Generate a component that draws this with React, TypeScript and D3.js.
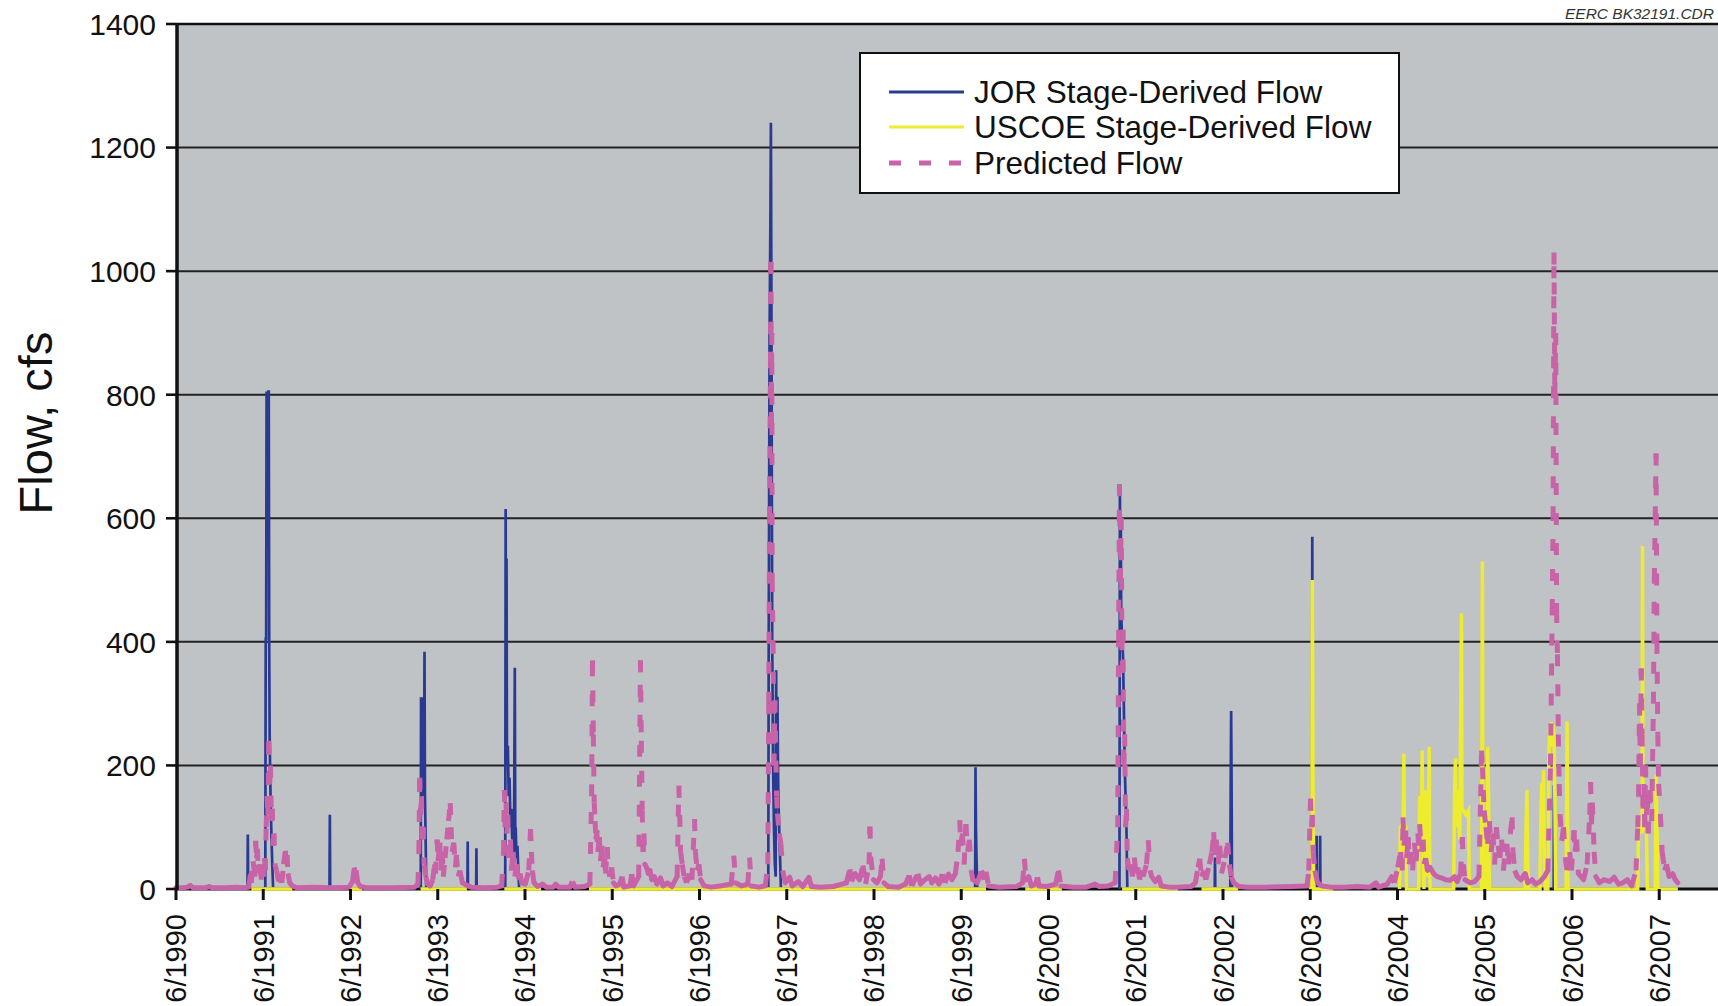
import React from 'react';
import * as d3 from 'd3';

const W = 1718;
const H = 1006;

const yTickValues = [0, 200, 400, 600, 800, 1000, 1200, 1400];
const xTickLabels = ['6/1990','6/1991','6/1992','6/1993','6/1994','6/1995','6/1996','6/1997','6/1998','6/1999','6/2000','6/2001','6/2002','6/2003','6/2004','6/2005','6/2006','6/2007'];
const seriesNames = ['JOR Stage-Derived Flow', 'USCOE Stage-Derived Flow', 'Predicted Flow'];
const seriesColors = ['#2A3A92', '#EEEC2E', '#C863A8'];
const yTitle = 'Flow, cfs';
const stamp = 'EERC BK32191.CDR';

type Pt = [number, number | null];

// time as decimal year, value in cfs (null = gap)
const jorFlow: Pt[] = [
  [1991.236,0],[1991.24,88],[1991.244,0],[1991.25,null],
  [1991.44,0],[1991.445,405],[1991.45,405],[1991.455,805],[1991.46,600],[1991.465,805],[1991.47,700],[1991.475,805],[1991.48,805],[1991.485,400],[1991.49,250],[1991.50,150],[1991.51,90],[1991.52,40],[1991.53,0],[1991.54,null],
  [1992.176,0],[1992.18,120],[1992.184,0],[1992.19,null],
  [1993.222,0],[1993.225,308],[1993.245,308],[1993.25,200],[1993.255,150],[1993.26,200],[1993.265,384],[1993.27,150],[1993.28,60],[1993.285,0],[1993.29,null],
  [1993.757,0],[1993.76,77],[1993.763,0],[1993.77,null],
  [1993.857,0],[1993.86,66],[1993.863,0],[1993.87,null],
  [1994.19,0],[1994.195,615],[1994.20,250],[1994.205,535],[1994.21,200],[1994.22,232],[1994.23,150],[1994.24,180],[1994.25,100],[1994.26,130],[1994.27,80],[1994.28,120],[1994.29,60],[1994.30,358],[1994.305,90],[1994.31,100],[1994.32,50],[1994.33,70],[1994.34,30],[1994.35,0],[1994.36,null],
  [1997.205,0],[1997.21,400],[1997.22,900],[1997.23,1100],[1997.235,1240],[1997.24,1000],[1997.245,700],[1997.25,400],[1997.26,200],[1997.27,100],[1997.28,40],[1997.29,20],[1997.295,354],[1997.30,200],[1997.31,311],[1997.315,224],[1997.32,150],[1997.33,100],[1997.34,50],[1997.35,0],[1997.36,null],
  [1999.576,0],[1999.58,197],[1999.585,100],[1999.59,60],[1999.60,0],[1999.61,null],
  [2001.23,0],[2001.235,655],[2001.24,500],[2001.245,600],[2001.25,450],[2001.26,400],[2001.27,380],[2001.28,300],[2001.29,200],[2001.30,150],[2001.31,100],[2001.315,50],[2001.32,0],[2001.33,null],
  [2002.322,0],[2002.325,51],[2002.328,0],[2002.33,null],
  [2002.50,0],[2002.505,165],[2002.51,288],[2002.515,170],[2002.52,0],[2002.53,null],
  [2003.436,0],[2003.44,570],[2003.444,0],[2003.45,null],
  [2003.487,0],[2003.49,86],[2003.493,0],[2003.50,null],
  [2003.527,0],[2003.53,86],[2003.533,0],[2003.54,null],
  [2006.207,0],[2006.21,168],[2006.213,0],
];

const uscoeFlow: Pt[] = [
  [1991.28,0],[1991.75,0],[1991.76,null],
  [1992.40,0],[1992.55,0],[1992.56,null],
  [1993.22,0],[1993.75,0],[1993.76,null],
  [1994.18,0],[1994.60,0],[1994.61,null],
  [1995.15,0],[1999.70,0],[1999.71,null],
  [2000.15,0],[2000.57,0],[2000.58,null],
  [2001.26,0],[2001.90,0],[2001.91,null],
  [2002.17,0],[2002.59,0],[2002.60,null],
  [2003.40,0],[2003.436,0],[2003.44,500],[2003.445,300],[2003.45,100],[2003.455,20],[2003.46,0],[2003.68,0],[2003.69,null],
  [2004.44,0],[2004.45,100],[2004.47,105],[2004.48,60],[2004.49,219],[2004.495,105],[2004.51,100],[2004.52,0],[2004.66,0],[2004.67,150],[2004.69,80],[2004.70,224],[2004.71,60],[2004.72,0],[2004.73,160],[2004.74,100],[2004.76,20],[2004.78,230],[2004.785,50],[2004.79,0],
  [2005.06,0],[2005.07,150],[2005.08,211],[2005.09,100],[2005.11,160],[2005.13,80],[2005.15,446],[2005.155,130],[2005.17,127],[2005.20,120],[2005.23,127],[2005.24,0],
  [2005.38,0],[2005.39,530],[2005.395,100],[2005.41,0],[2005.44,0],[2005.45,230],[2005.46,150],[2005.47,0],
  [2005.88,0],[2005.89,100],[2005.90,160],[2005.91,40],[2005.92,0],
  [2006.05,0],[2006.06,120],[2006.07,171],[2006.08,80],[2006.09,192],[2006.10,30],[2006.11,0],
  [2006.14,0],[2006.15,200],[2006.16,263],[2006.17,230],[2006.18,270],[2006.19,240],[2006.20,265],[2006.21,250],[2006.22,150],[2006.23,0],
  [2006.35,0],[2006.36,271],[2006.37,0],
  [2007.17,0],[2007.18,98],[2007.20,100],[2007.22,90],[2007.225,555],[2007.23,100],[2007.25,98],[2007.27,95],[2007.28,0],
  [2007.37,0],[2007.38,185],[2007.39,100],[2007.40,0],[2007.63,0],
];

const predictedFlow: [number, number][] = [
  [1990.417,2],[1990.50,2],[1990.55,3],[1990.58,6],[1990.61,2],[1990.75,2],[1990.80,4],[1990.83,2],[1991.00,2],[1991.10,3],[1991.20,2],
  [1991.25,3],[1991.27,25],[1991.28,10],[1991.30,45],[1991.32,20],[1991.33,78],[1991.34,50],[1991.35,65],[1991.36,25],[1991.38,40],[1991.39,15],[1991.41,35],[1991.42,20],[1991.43,50],[1991.44,30],[1991.45,100],[1991.46,150],[1991.47,120],[1991.48,240],[1991.49,170],[1991.50,200],[1991.51,110],[1991.52,130],[1991.53,70],[1991.54,90],[1991.55,40],[1991.57,30],[1991.59,15],[1991.61,20],[1991.63,10],[1991.65,40],[1991.67,62],[1991.68,45],[1991.69,55],[1991.70,25],[1991.72,10],[1991.75,5],[1991.80,2],
  [1992.00,3],[1992.20,2],[1992.40,3],[1992.44,12],[1992.46,35],[1992.47,22],[1992.48,30],[1992.50,10],[1992.53,4],[1992.60,2],
  [1992.90,2],[1993.15,3],[1993.19,8],[1993.20,60],[1993.21,180],[1993.22,120],[1993.23,150],[1993.24,80],[1993.25,100],[1993.26,40],[1993.28,20],[1993.30,8],[1993.33,5],[1993.36,15],[1993.38,40],[1993.39,25],[1993.41,80],[1993.42,45],[1993.44,75],[1993.45,30],[1993.47,60],[1993.48,20],[1993.50,50],[1993.52,80],[1993.54,110],[1993.56,139],[1993.57,100],[1993.58,60],[1993.60,75],[1993.62,35],[1993.63,55],[1993.65,20],[1993.67,30],[1993.70,10],[1993.75,6],[1993.80,3],[1993.95,2],
  [1994.10,3],[1994.15,5],[1994.17,60],[1994.18,160],[1994.19,100],[1994.20,140],[1994.21,90],[1994.22,120],[1994.23,50],[1994.25,80],[1994.26,30],[1994.28,60],[1994.30,20],[1994.32,40],[1994.34,15],[1994.36,25],[1994.38,10],[1994.42,8],[1994.46,30],[1994.48,97],[1994.49,60],[1994.50,30],[1994.52,10],[1994.56,4],[1994.62,8],[1994.66,3],[1994.74,3],[1994.77,8],[1994.80,3],[1994.93,3],[1994.96,12],[1994.99,3],
  [1995.10,4],[1995.16,8],[1995.18,150],[1995.19,370],[1995.20,250],[1995.21,140],[1995.22,110],[1995.23,80],[1995.24,95],[1995.25,60],[1995.27,84],[1995.28,45],[1995.30,70],[1995.31,35],[1995.33,50],[1995.34,25],[1995.36,68],[1995.37,30],[1995.39,20],[1995.41,35],[1995.43,10],[1995.46,5],[1995.50,8],[1995.53,20],[1995.55,3],[1995.62,5],[1995.64,24],[1995.66,5],[1995.72,20],[1995.74,370],[1995.75,240],[1995.76,127],[1995.77,60],[1995.78,90],[1995.79,40],[1995.81,35],[1995.83,25],[1995.85,30],[1995.87,15],[1995.90,20],[1995.93,8],[1995.97,18],
  [1996.00,5],[1996.05,10],[1996.10,4],[1996.16,20],[1996.18,167],[1996.19,120],[1996.20,60],[1996.22,40],[1996.24,20],[1996.27,10],[1996.30,25],[1996.33,15],[1996.36,113],[1996.37,60],[1996.39,30],[1996.41,40],[1996.43,15],[1996.47,5],[1996.55,3],[1996.65,5],[1996.78,8],[1996.81,54],[1996.83,10],[1996.90,5],[1996.97,8],[1996.99,51],[1997.01,5],[1997.10,3],
  [1997.17,5],[1997.20,40],[1997.21,300],[1997.22,600],[1997.23,850],[1997.235,1015],[1997.24,750],[1997.245,900],[1997.25,500],[1997.26,400],[1997.27,200],[1997.28,305],[1997.30,150],[1997.31,122],[1997.33,90],[1997.35,73],[1997.37,30],[1997.40,10],[1997.45,19],[1997.48,5],[1997.55,12],[1997.60,4],[1997.67,19],[1997.70,4],[1997.80,3],[1997.95,4],
  [1998.10,10],[1998.14,32],[1998.16,12],[1998.20,25],[1998.25,15],[1998.29,38],[1998.32,8],[1998.36,40],[1998.37,101],[1998.38,50],[1998.41,15],[1998.45,10],[1998.49,20],[1998.51,49],[1998.53,10],[1998.58,4],[1998.70,3],[1998.78,8],[1998.82,22],[1998.85,5],[1998.92,25],[1998.95,8],
  [1999.00,15],[1999.05,20],[1999.08,10],[1999.12,18],[1999.16,8],[1999.20,24],[1999.23,10],[1999.27,24],[1999.31,15],[1999.35,25],[1999.38,60],[1999.40,111],[1999.41,70],[1999.43,90],[1999.45,40],[1999.47,105],[1999.49,60],[1999.51,80],[1999.53,30],[1999.55,15],[1999.60,10],[1999.65,30],[1999.68,15],[1999.70,28],[1999.73,5],[1999.85,3],
  [2000.05,4],[2000.12,10],[2000.14,49],[2000.16,15],[2000.19,20],[2000.22,5],[2000.27,8],[2000.29,19],[2000.31,5],[2000.40,4],[2000.50,8],[2000.53,30],[2000.56,5],[2000.70,3],[2000.85,3],[2000.95,8],[2001.00,4],[2001.10,5],
  [2001.18,10],[2001.21,100],[2001.22,400],[2001.23,655],[2001.24,500],[2001.25,600],[2001.26,350],[2001.27,420],[2001.28,200],[2001.29,250],[2001.30,100],[2001.31,130],[2001.32,50],[2001.34,30],[2001.36,40],[2001.38,20],[2001.40,51],[2001.42,25],[2001.44,35],[2001.46,15],[2001.48,30],[2001.50,20],[2001.54,40],[2001.56,79],[2001.58,30],[2001.60,20],[2001.64,12],[2001.68,19],[2001.71,5],[2001.80,3],[2001.90,3],
  [2002.05,4],[2002.10,10],[2002.13,35],[2002.15,49],[2002.17,20],[2002.20,30],[2002.22,15],[2002.26,40],[2002.29,60],[2002.31,92],[2002.32,55],[2002.34,80],[2002.36,40],[2002.38,70],[2002.40,25],[2002.44,50],[2002.47,75],[2002.49,40],[2002.51,20],[2002.54,10],[2002.60,4],[2002.70,3],[2002.90,3],
  [2003.20,4],[2003.38,5],[2003.40,30],[2003.42,146],[2003.43,100],[2003.44,120],[2003.45,60],[2003.47,30],[2003.50,10],[2003.55,5],[2003.65,3],[2003.80,3],[2003.95,4],
  [2004.10,3],[2004.17,10],[2004.20,3],[2004.30,8],[2004.35,20],[2004.38,10],[2004.42,35],[2004.45,60],[2004.47,30],[2004.48,116],[2004.49,70],[2004.51,95],[2004.52,50],[2004.54,84],[2004.55,40],[2004.57,60],[2004.59,30],[2004.61,75],[2004.63,45],[2004.65,90],[2004.66,70],[2004.67,105],[2004.69,60],[2004.71,80],[2004.72,40],[2004.74,50],[2004.76,30],[2004.79,35],[2004.83,25],[2004.87,20],[2004.92,18],[2004.97,15],
  [2005.02,14],[2005.07,20],[2005.10,12],[2005.14,25],[2005.16,84],[2005.17,40],[2005.19,15],[2005.25,10],[2005.30,12],[2005.35,20],[2005.37,150],[2005.38,224],[2005.39,197],[2005.40,160],[2005.41,127],[2005.43,100],[2005.45,73],[2005.47,110],[2005.49,60],[2005.51,90],[2005.53,40],[2005.55,100],[2005.57,70],[2005.59,50],[2005.61,80],[2005.63,30],[2005.65,60],[2005.67,73],[2005.69,40],[2005.71,90],[2005.73,116],[2005.74,60],[2005.76,30],[2005.79,20],[2005.83,15],[2005.88,25],[2005.91,10],[2005.96,15],
  [2006.00,8],[2006.05,12],[2006.10,20],[2006.14,30],[2006.17,200],[2006.19,450],[2006.20,600],[2006.21,1030],[2006.22,800],[2006.23,900],[2006.24,450],[2006.25,380],[2006.26,250],[2006.27,170],[2006.28,120],[2006.30,78],[2006.32,100],[2006.34,50],[2006.36,30],[2006.39,60],[2006.41,30],[2006.44,95],[2006.45,60],[2006.47,80],[2006.49,25],[2006.52,20],[2006.55,15],[2006.59,40],[2006.62,120],[2006.63,173],[2006.64,105],[2006.65,140],[2006.67,60],[2006.69,20],[2006.73,10],[2006.78,15],[2006.85,12],[2006.90,19],[2006.95,8],
  [2007.00,10],[2007.05,15],[2007.10,5],[2007.15,30],[2007.17,100],[2007.18,150],[2007.19,300],[2007.20,200],[2007.21,357],[2007.22,250],[2007.23,130],[2007.24,170],[2007.25,100],[2007.26,200],[2007.27,120],[2007.28,150],[2007.29,90],[2007.31,160],[2007.33,110],[2007.35,300],[2007.36,500],[2007.37,600],[2007.38,705],[2007.39,400],[2007.40,250],[2007.41,170],[2007.43,120],[2007.45,60],[2007.48,30],[2007.50,40],[2007.53,20],[2007.57,25],[2007.60,15],[2007.63,10],
];

const FONT = "'Liberation Sans', Arial, Helvetica, sans-serif";

export default function App() {
  const left = 177, top = 24, bottom = 889, right = W;
  const x = d3.scaleLinear().domain([1990.4167, 2008.09]).range([176, 1718]);
  const y = d3.scaleLinear().domain([0, 1400]).range([bottom, top]);
  const xTickValues = xTickLabels.map(l => +l.split('/')[1] + 5 / 12);

  const lineGen = d3.line<Pt>()
    .defined(d => d[1] !== null)
    .x(d => x(d[0]))
    .y(d => y(d[1] as number));

  // predicted: steep (single-step) segments dashed, gentle runs solid
  const dash = '12 18';
  const solidRuns: [number, number][][] = [];
  const steepSegs: [[number, number], [number, number]][] = [];
  let run: [number, number][] = [];
  d3.pairs(predictedFlow).forEach(([a, b]) => {
    const dx = Math.abs(x(b[0]) - x(a[0]));
    const dy = Math.abs(y(b[1]) - y(a[1]));
    if (dy > 2 * dx) {
      if (run.length > 1) solidRuns.push(run);
      run = [];
      steepSegs.push([a, b]);
    } else {
      if (run.length === 0) run.push(a);
      run.push(b);
    }
  });
  if (run.length > 1) solidRuns.push(run);
  const solidGen = d3.line<[number, number]>().x(d => x(d[0])).y(d => y(d[1]));

  const legendX = 860, legendY = 53, legendW = 539, legendH = 140;
  const rowY = [92, 127, 163];

  return (
    <svg width={W} height={H} style={{ position: 'absolute', left: 0, top: 0, display: 'block', background: '#fff' }}>
      <rect x={left} y={top} width={right - left} height={bottom - top} fill="#C0C3C6" />
      {yTickValues.filter(v => v > 0 && v < 1400).map(v => (
        <line key={'g' + v} x1={left} x2={right} y1={y(v)} y2={y(v)} stroke="#222" strokeWidth={2} />
      ))}
      <line x1={left} x2={right} y1={y(1400)} y2={y(1400)} stroke="#111" strokeWidth={2.6} />
      {/* x axis line */}
      <line x1={left} x2={right} y1={bottom} y2={bottom} stroke="#111" strokeWidth={3} />

      {/* JOR */}
      <path d={lineGen(jorFlow) || ''} fill="none" stroke={seriesColors[0]} strokeWidth={2.7} strokeLinejoin="miter" />
      {/* USCOE */}
      <path d={lineGen(uscoeFlow) || ''} fill="none" stroke={seriesColors[1]} strokeWidth={3.5} />
      {/* Predicted */}
      {solidRuns.map((r, i) => (
        <path key={'r' + i} d={solidGen(r) || ''} fill="none" stroke={seriesColors[2]} strokeWidth={5} strokeLinejoin="round" strokeLinecap="round" />
      ))}
      {steepSegs.map(([a, b], i) => (
        <line key={'s' + i} x1={x(a[0])} y1={y(a[1])} x2={x(b[0])} y2={y(b[1])} stroke={seriesColors[2]} strokeWidth={5} strokeDasharray={dash} strokeLinecap="butt" />
      ))}

      {/* y axis */}
      <line x1={left} x2={left} y1={top - 1} y2={bottom + 1} stroke="#111" strokeWidth={3.5} />
      {yTickValues.map(v => (
        <g key={'yt' + v}>
          <line x1={166} x2={left} y1={y(v)} y2={y(v)} stroke="#111" strokeWidth={2.6} />
          <text x={156} y={y(v)} dy="0.36em" textAnchor="end" fontFamily={FONT} fontSize={30} fill="#111">{v}</text>
        </g>
      ))}
      {xTickValues.map((t, i) => (
        <g key={'xt' + i}>
          <line x1={x(t)} x2={x(t)} y1={bottom} y2={bottom + 11} stroke="#111" strokeWidth={3} />
          <text transform={`translate(${x(t) + 10.5},914) rotate(-90)`} textAnchor="end" fontFamily={FONT} fontSize={29} fill="#111">{xTickLabels[i]}</text>
        </g>
      ))}

      <text transform="translate(52,423) rotate(-90)" textAnchor="middle" fontFamily={FONT} fontSize={47} fill="#111">{yTitle}</text>
      <text x={1714} y={19} textAnchor="end" fontFamily={FONT} fontSize={15.5} fontStyle="italic" fill="#333">{stamp}</text>

      {/* legend */}
      <rect x={legendX} y={legendY} width={legendW} height={legendH} fill="#fff" stroke="#111" strokeWidth={2} />
      <line x1={889} x2={964} y1={rowY[0]} y2={rowY[0]} stroke={seriesColors[0]} strokeWidth={3} />
      <line x1={889} x2={964} y1={rowY[1]} y2={rowY[1]} stroke={seriesColors[1]} strokeWidth={3} />
      <line x1={889} x2={964} y1={rowY[2]} y2={rowY[2]} stroke={seriesColors[2]} strokeWidth={5} strokeDasharray={dash} />
      {seriesNames.map((n, i) => (
        <text key={n} x={974} y={rowY[i]} dy="0.36em" fontFamily={FONT} fontSize={31.5} fill="#111">{n}</text>
      ))}
    </svg>
  );
}
